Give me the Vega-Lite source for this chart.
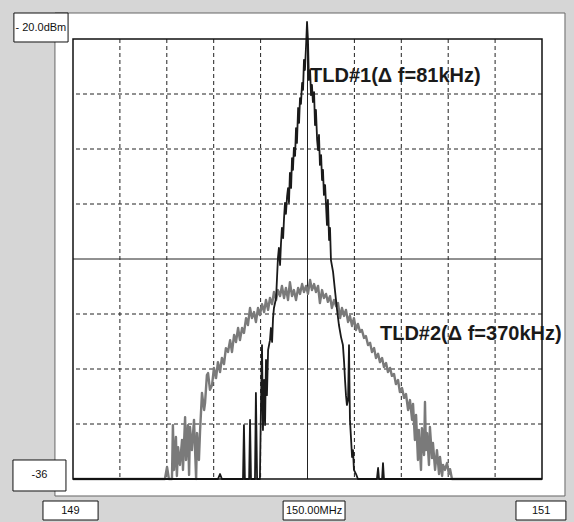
{
  "$schema": "https://vega.github.io/schema/vega-lite/v6.json",
  "width": 469,
  "height": 440,
  "autosize": "none",
  "padding": {"left": 73, "top": 39, "right": 32, "bottom": 43},
  "background": "#d6d6d6",
  "view": {"stroke": null, "fill": null},
  "datasets": {
    "panel": [{"x": 148.923, "x2": 151.098, "y": -19.055, "y2": -36.618}],
    "frame": [{"x": 149, "x2": 151, "y": -20, "y2": -36}],
    "vgrid": [{"f": 149.2}, {"f": 149.4}, {"f": 149.6}, {"f": 149.8}, {"f": 150.2}, {"f": 150.4}, {"f": 150.6}, {"f": 150.8}],
    "hgrid": [{"p": -22}, {"p": -24}, {"p": -26}, {"p": -30}, {"p": -32}, {"p": -34}],
    "center": [{"f": 150, "p": -28}],
    "boxes": [
      {"x": 148.748, "x2": 148.979, "y": -19.055, "y2": -20.109, "t": "- 20.0dBm", "tx": 148.863, "ty": -19.582},
      {"x": 148.744, "x2": 148.970, "y": -35.309, "y2": -36.436, "t": "-36", "tx": 148.857, "ty": -35.855},
      {"x": 148.872, "x2": 149.107, "y": -36.8, "y2": -37.491, "t": "149", "tx": 148.989, "ty": -37.164},
      {"x": 149.896, "x2": 150.160, "y": -36.8, "y2": -37.491, "t": "150.00MHz", "tx": 150.028, "ty": -37.164},
      {"x": 150.889, "x2": 151.102, "y": -36.8, "y2": -37.491, "t": "151", "tx": 150.996, "ty": -37.164}
    ],
    "notes": [
      {"t": "TLD#1(Δ f=81kHz)", "f": 150.011, "p": -21.345},
      {"t": "TLD#2(Δ f=370kHz)", "f": 150.309, "p": -30.727}
    ],
    "tld1": [
      {"f":149.000,"p":-36},{"f":149.618,"p":-36},{"f":149.627,"p":-35.82},{"f":149.635,"p":-36},{"f":149.725,"p":-36},{"f":149.729,"p":-34.04},{"f":149.733,"p":-36},{"f":149.751,"p":-36},{"f":149.755,"p":-33.85},{"f":149.759,"p":-36},{"f":149.776,"p":-36},{"f":149.780,"p":-32.87},{"f":149.785,"p":-36},{"f":149.797,"p":-36},{"f":149.802,"p":-33.13},{"f":149.806,"p":-31.13},{"f":149.810,"p":-34.22},{"f":149.815,"p":-32.40},{"f":149.819,"p":-34.04},{"f":149.823,"p":-31.67},{"f":149.827,"p":-32.95},{"f":149.832,"p":-31.31},{"f":149.840,"p":-30.95},{"f":149.844,"p":-30.51},{"f":149.849,"p":-31.02},{"f":149.853,"p":-30.15},{"f":149.857,"p":-29.78},{"f":149.866,"p":-29.42},{"f":149.870,"p":-28.69},{"f":149.874,"p":-27.96},{"f":149.878,"p":-27.60},{"f":149.883,"p":-28.22},{"f":149.887,"p":-27.42},{"f":149.891,"p":-26.87},{"f":149.896,"p":-27.24},{"f":149.900,"p":-26.51},{"f":149.904,"p":-25.96},{"f":149.908,"p":-26.36},{"f":149.913,"p":-25.71},{"f":149.917,"p":-25.42},{"f":149.921,"p":-25.96},{"f":149.925,"p":-24.87},{"f":149.930,"p":-25.42},{"f":149.934,"p":-24.33},{"f":149.938,"p":-24.76},{"f":149.942,"p":-23.96},{"f":149.947,"p":-24.25},{"f":149.951,"p":-23.24},{"f":149.955,"p":-23.78},{"f":149.960,"p":-22.51},{"f":149.964,"p":-23.05},{"f":149.968,"p":-22.15},{"f":149.972,"p":-22.36},{"f":149.977,"p":-21.60},{"f":149.981,"p":-21.85},{"f":149.985,"p":-20.76},{"f":149.989,"p":-21.13},{"f":149.994,"p":-20.22},{"f":149.998,"p":-19.38},{"f":150.002,"p":-20.04},{"f":150.006,"p":-21.49},{"f":150.011,"p":-21.13},{"f":150.015,"p":-22.04},{"f":150.019,"p":-21.67},{"f":150.023,"p":-22.29},{"f":150.028,"p":-21.93},{"f":150.032,"p":-23.13},{"f":150.036,"p":-22.58},{"f":150.041,"p":-23.67},{"f":150.045,"p":-24.04},{"f":150.049,"p":-23.49},{"f":150.053,"p":-24.58},{"f":150.058,"p":-24.22},{"f":150.062,"p":-25.13},{"f":150.066,"p":-24.76},{"f":150.070,"p":-25.67},{"f":150.075,"p":-25.31},{"f":150.079,"p":-26.04},{"f":150.083,"p":-26.76},{"f":150.087,"p":-25.85},{"f":150.092,"p":-27.31},{"f":150.096,"p":-26.87},{"f":150.100,"p":-28.04},{"f":150.109,"p":-28.47},{"f":150.117,"p":-29.13},{"f":150.126,"p":-29.85},{"f":150.134,"p":-30.40},{"f":150.143,"p":-30.84},{"f":150.151,"p":-31.13},{"f":150.156,"p":-31.75},{"f":150.160,"p":-32.40},{"f":150.164,"p":-32.95},{"f":150.168,"p":-33.31},{"f":150.173,"p":-33.13},{"f":150.177,"p":-31.13},{"f":150.181,"p":-33.85},{"f":150.186,"p":-34.58},{"f":150.190,"p":-35.20},{"f":150.194,"p":-34.95},{"f":150.198,"p":-35.67},{"f":150.207,"p":-35.82},{"f":150.215,"p":-36},{"f":150.296,"p":-36},{"f":150.301,"p":-35.60},{"f":150.305,"p":-36},{"f":150.318,"p":-36},{"f":150.322,"p":-35.42},{"f":150.326,"p":-36},{"f":151.000,"p":-36}
    ],
    "tld2": [
      {"f":149.000,"p":-36},{"f":149.392,"p":-36},{"f":149.401,"p":-35.56},{"f":149.409,"p":-36},{"f":149.422,"p":-36},{"f":149.426,"p":-34.04},{"f":149.431,"p":-35.67},{"f":149.439,"p":-34.47},{"f":149.443,"p":-35.89},{"f":149.448,"p":-34.84},{"f":149.456,"p":-35.49},{"f":149.465,"p":-34.58},{"f":149.469,"p":-35.67},{"f":149.478,"p":-33.75},{"f":149.482,"p":-35.31},{"f":149.490,"p":-34.04},{"f":149.495,"p":-35.85},{"f":149.499,"p":-34.11},{"f":149.507,"p":-34.95},{"f":149.516,"p":-33.85},{"f":149.525,"p":-36},{"f":149.529,"p":-34.33},{"f":149.537,"p":-35.31},{"f":149.542,"p":-34.22},{"f":149.550,"p":-32.87},{"f":149.559,"p":-33.49},{"f":149.563,"p":-33.24},{"f":149.571,"p":-32.22},{"f":149.576,"p":-32.15},{"f":149.584,"p":-32.76},{"f":149.593,"p":-32.58},{"f":149.601,"p":-31.96},{"f":149.610,"p":-32.33},{"f":149.618,"p":-31.75},{"f":149.627,"p":-32.11},{"f":149.635,"p":-31.60},{"f":149.644,"p":-31.82},{"f":149.652,"p":-31.24},{"f":149.661,"p":-31.38},{"f":149.670,"p":-30.95},{"f":149.678,"p":-31.38},{"f":149.687,"p":-30.76},{"f":149.695,"p":-31.02},{"f":149.704,"p":-30.51},{"f":149.712,"p":-30.95},{"f":149.721,"p":-30.51},{"f":149.729,"p":-30.69},{"f":149.738,"p":-30.15},{"f":149.746,"p":-30.40},{"f":149.755,"p":-29.78},{"f":149.763,"p":-30.15},{"f":149.772,"p":-29.93},{"f":149.780,"p":-30.29},{"f":149.789,"p":-29.78},{"f":149.797,"p":-30.04},{"f":149.806,"p":-29.64},{"f":149.815,"p":-29.93},{"f":149.823,"p":-29.49},{"f":149.832,"p":-29.85},{"f":149.840,"p":-29.42},{"f":149.849,"p":-29.64},{"f":149.857,"p":-29.20},{"f":149.866,"p":-29.49},{"f":149.874,"p":-29.13},{"f":149.883,"p":-29.35},{"f":149.891,"p":-28.98},{"f":149.900,"p":-29.42},{"f":149.908,"p":-29.05},{"f":149.917,"p":-29.49},{"f":149.925,"p":-28.84},{"f":149.934,"p":-29.35},{"f":149.942,"p":-29.13},{"f":149.951,"p":-29.49},{"f":149.960,"p":-29.05},{"f":149.968,"p":-29.27},{"f":149.977,"p":-28.91},{"f":149.985,"p":-29.20},{"f":149.994,"p":-28.98},{"f":150.002,"p":-29.27},{"f":150.011,"p":-28.76},{"f":150.019,"p":-29.13},{"f":150.028,"p":-28.91},{"f":150.036,"p":-29.20},{"f":150.045,"p":-28.98},{"f":150.053,"p":-29.60},{"f":150.062,"p":-29.13},{"f":150.070,"p":-29.42},{"f":150.079,"p":-29.27},{"f":150.087,"p":-29.56},{"f":150.096,"p":-29.35},{"f":150.104,"p":-29.78},{"f":150.113,"p":-29.49},{"f":150.122,"p":-29.71},{"f":150.130,"p":-29.60},{"f":150.139,"p":-30.15},{"f":150.147,"p":-29.78},{"f":150.156,"p":-30.07},{"f":150.164,"p":-29.85},{"f":150.173,"p":-30.29},{"f":150.181,"p":-30.07},{"f":150.190,"p":-30.44},{"f":150.198,"p":-30.15},{"f":150.207,"p":-30.58},{"f":150.215,"p":-30.36},{"f":150.224,"p":-30.65},{"f":150.232,"p":-30.58},{"f":150.241,"p":-30.87},{"f":150.249,"p":-30.80},{"f":150.258,"p":-31.13},{"f":150.267,"p":-31.05},{"f":150.275,"p":-31.38},{"f":150.284,"p":-31.24},{"f":150.292,"p":-31.60},{"f":150.301,"p":-31.45},{"f":150.309,"p":-31.75},{"f":150.318,"p":-31.60},{"f":150.326,"p":-31.93},{"f":150.335,"p":-31.78},{"f":150.343,"p":-32.11},{"f":150.352,"p":-31.96},{"f":150.360,"p":-32.25},{"f":150.369,"p":-32.18},{"f":150.377,"p":-32.55},{"f":150.386,"p":-32.40},{"f":150.394,"p":-32.84},{"f":150.403,"p":-32.69},{"f":150.412,"p":-33.05},{"f":150.420,"p":-32.91},{"f":150.429,"p":-33.49},{"f":150.437,"p":-33.13},{"f":150.446,"p":-33.85},{"f":150.450,"p":-33.27},{"f":150.458,"p":-34.58},{"f":150.463,"p":-33.67},{"f":150.471,"p":-35.31},{"f":150.475,"p":-34.22},{"f":150.484,"p":-35.67},{"f":150.488,"p":-34.15},{"f":150.497,"p":-35.13},{"f":150.501,"p":-33.20},{"f":150.505,"p":-34.95},{"f":150.510,"p":-34.33},{"f":150.518,"p":-35.49},{"f":150.522,"p":-34.11},{"f":150.531,"p":-35.24},{"f":150.535,"p":-34.69},{"f":150.544,"p":-35.67},{"f":150.552,"p":-34.95},{"f":150.561,"p":-35.82},{"f":150.565,"p":-35.20},{"f":150.574,"p":-35.89},{"f":150.578,"p":-35.49},{"f":150.586,"p":-35.67},{"f":150.595,"p":-35.42},{"f":150.603,"p":-35.82},{"f":150.608,"p":-35.64},{"f":150.616,"p":-36},{"f":151.000,"p":-36}
    ]
  },
  "layer": [
    {
      "data": {"name": "panel"},
      "mark": {"type": "rect", "fill": "#ffffff", "stroke": "#666666", "strokeWidth": 1},
      "encoding": {
        "x": {"field": "x", "type": "quantitative", "scale": {"domain": [149, 151], "nice": false, "zero": false}, "axis": null},
        "x2": {"field": "x2"},
        "y": {"field": "y", "type": "quantitative", "scale": {"domain": [-36, -20], "nice": false, "zero": false}, "axis": null},
        "y2": {"field": "y2"}
      }
    },
    {
      "data": {"name": "vgrid"},
      "mark": {"type": "rule", "stroke": "#222222", "strokeWidth": 1, "strokeDash": [4, 3]},
      "encoding": {
        "x": {"field": "f", "type": "quantitative", "scale": {"domain": [149, 151], "nice": false, "zero": false}, "axis": null}
      }
    },
    {
      "data": {"name": "hgrid"},
      "mark": {"type": "rule", "stroke": "#222222", "strokeWidth": 1, "strokeDash": [4, 3]},
      "encoding": {
        "y": {"field": "p", "type": "quantitative", "scale": {"domain": [-36, -20], "nice": false, "zero": false}, "axis": null}
      }
    },
    {
      "data": {"name": "center"},
      "mark": {"type": "rule", "stroke": "#222222", "strokeWidth": 1},
      "encoding": {
        "x": {"field": "f", "type": "quantitative", "scale": {"domain": [149, 151], "nice": false, "zero": false}, "axis": null}
      }
    },
    {
      "data": {"name": "center"},
      "mark": {"type": "rule", "stroke": "#222222", "strokeWidth": 1},
      "encoding": {
        "y": {"field": "p", "type": "quantitative", "scale": {"domain": [-36, -20], "nice": false, "zero": false}, "axis": null}
      }
    },
    {
      "data": {"name": "tld2"},
      "mark": {"type": "line", "stroke": "#7a7a7a", "strokeWidth": 2.4, "strokeJoin": "round"},
      "encoding": {
        "x": {"field": "f", "type": "quantitative", "scale": {"domain": [149, 151], "nice": false, "zero": false}, "axis": null},
        "y": {"field": "p", "type": "quantitative", "scale": {"domain": [-36, -20], "nice": false, "zero": false}, "axis": null}
      }
    },
    {
      "data": {"name": "tld1"},
      "mark": {"type": "line", "stroke": "#1a1a1a", "strokeWidth": 1.8, "strokeJoin": "round"},
      "encoding": {
        "x": {"field": "f", "type": "quantitative", "scale": {"domain": [149, 151], "nice": false, "zero": false}, "axis": null},
        "y": {"field": "p", "type": "quantitative", "scale": {"domain": [-36, -20], "nice": false, "zero": false}, "axis": null}
      }
    },
    {
      "data": {"name": "frame"},
      "mark": {"type": "rect", "fill": null, "stroke": "#111111", "strokeWidth": 1.5},
      "encoding": {
        "x": {"field": "x", "type": "quantitative", "scale": {"domain": [149, 151], "nice": false, "zero": false}, "axis": null},
        "x2": {"field": "x2"},
        "y": {"field": "y", "type": "quantitative", "scale": {"domain": [-36, -20], "nice": false, "zero": false}, "axis": null},
        "y2": {"field": "y2"}
      }
    },
    {
      "data": {"name": "boxes"},
      "mark": {"type": "rect", "fill": "#ffffff", "stroke": "#111111", "strokeWidth": 1},
      "encoding": {
        "x": {"field": "x", "type": "quantitative", "scale": {"domain": [149, 151], "nice": false, "zero": false}, "axis": null},
        "x2": {"field": "x2"},
        "y": {"field": "y", "type": "quantitative", "scale": {"domain": [-36, -20], "nice": false, "zero": false}, "axis": null},
        "y2": {"field": "y2"}
      }
    },
    {
      "data": {"name": "boxes"},
      "mark": {"type": "text", "font": "Liberation Sans", "fontSize": 11, "fill": "#111111", "align": "center", "baseline": "middle"},
      "encoding": {
        "x": {"field": "tx", "type": "quantitative", "scale": {"domain": [149, 151], "nice": false, "zero": false}, "axis": null},
        "y": {"field": "ty", "type": "quantitative", "scale": {"domain": [-36, -20], "nice": false, "zero": false}, "axis": null},
        "text": {"field": "t"}
      }
    },
    {
      "data": {"name": "notes"},
      "mark": {"type": "text", "font": "Liberation Sans", "fontSize": 20, "fontWeight": "bold", "fill": "#1a1a1a", "align": "left", "baseline": "middle"},
      "encoding": {
        "x": {"field": "f", "type": "quantitative", "scale": {"domain": [149, 151], "nice": false, "zero": false}, "axis": null},
        "y": {"field": "p", "type": "quantitative", "scale": {"domain": [-36, -20], "nice": false, "zero": false}, "axis": null},
        "text": {"field": "t"}
      }
    }
  ]
}
